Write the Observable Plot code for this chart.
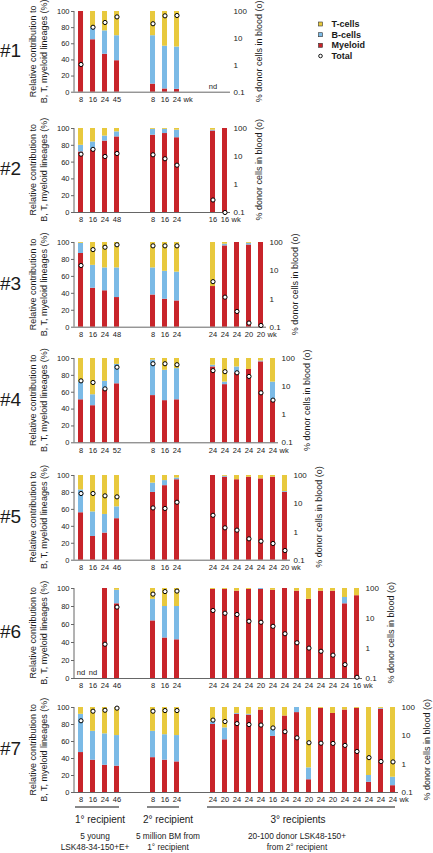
<!DOCTYPE html>
<html><head><meta charset="utf-8">
<script src="https://cdn.jsdelivr.net/npm/d3@7"></script>
<script src="https://cdn.jsdelivr.net/npm/@observablehq/plot@0.6"></script>
<style>
body{margin:0;background:#fff;}
#root{position:relative;width:433px;height:853px;overflow:hidden;font-family:"Liberation Sans",Arial,sans-serif;background:#fff;}
#root svg{position:absolute;left:0;}
</style></head><body><div id="root"></div>
<script>
// ---- data ----
const lineages = ["T-cells", "B-cells", "Myeloid"];
const lineageColors = ["#e8c93d", "#7bbae6", "#c8242a"];
const logTicks = [0.1, 1, 10, 100];
const pctTicks = [0, 20, 40, 60, 80, 100];
const recipientLabels = ["1° recipient", "2° recipient", "3° recipients"];
const recipientNotes = [["5 young", "LSK48-34-150+E+"], ["5 million BM from", "1° recipient"], ["20-100 donor LSK48-150+", "from 2° recipient"]];

const mouse = [
  1,1,1,1, 1,1,1, 1,
  2,2,2,2, 2,2,2, 2,2,
  3,3,3,3, 3,3,3, 3,3,3,3,3,
  4,4,4,4, 4,4,4, 4,4,4,4,4,4,
  5,5,5,5, 5,5,5, 5,5,5,5,5,5,5,
  6,6,6,6, 6,6,6, 6,6,6,6,6,6,6,6,6,6,6,6,6,
  7,7,7,7, 7,7,7, 7,7,7,7,7,7,7,7,7,7,7,7,7,7,7,7
];
const recipient = [
  1,1,1,1, 2,2,2, 3,
  1,1,1,1, 2,2,2, 3,3,
  1,1,1,1, 2,2,2, 3,3,3,3,3,
  1,1,1,1, 2,2,2, 3,3,3,3,3,3,
  1,1,1,1, 2,2,2, 3,3,3,3,3,3,3,
  1,1,1,1, 2,2,2, 3,3,3,3,3,3,3,3,3,3,3,3,3,
  1,1,1,1, 2,2,2, 3,3,3,3,3,3,3,3,3,3,3,3,3,3,3,3
];
const weeks = [
  8,16,24,45, 8,16,24, null,
  8,16,24,48, 8,16,24, 16,16,
  8,16,24,48, 8,16,24, 24,24,24,20,20,
  8,16,24,52, 8,16,24, 24,24,24,24,24,24,
  8,16,24,46, 8,16,24, 24,24,24,24,24,24,20,
  8,16,24,46, 8,16,24, 24,24,24,24,20,24,24,24,24,24,24,24,16,
  8,16,24,46, 8,16,24, 24,20,24,24,24,16,24,24,20,24,20,24,24,24,24,24
];
const myeloid = [
  100,65,47,39, 10,4,3.5, null,
  72,75,85,90, 92,94,89, 97,100,
  87,46,43,35, 38,33,31, 48,96,100,97,100,
  51,44,63,70, 56,50,51, 90,69,83,87,96,50,
  56,28,32,49, 80,88,95, 100,98,95,98,96,98,80,
  null,null,100,83, 64,45,43, 99,99,97,99,99,98,100,97,88,97,97,83,92,
  47,38,32,31, 41,38,36, 80,62,92,91,97,66,90,94,15,99,93,97,99,12,98,8
];
const bcells = [
  0,15,29,31, 60,53,52.5, null,
  8,9,6,6, 7,5,9, 1,0,
  12,27,27,35, 32,33,34, 0,2,0,2,0,
  21,13,10,23, 42,36,37, 2,3,7,0,1,22,
  27,29,22,14, 11,6,2, 0,1,0,0,0,0,1,
  null,null,0,15, 24,35,37, 0,0,0,0,1,0,0,0,0,0,0,7,0,
  45,34,37,36, 31,30,31, 3,14,1,1,0,8,0,6,14,0,0,0,0,8,1,10
];
const tcells = [
  0,20,24,30, 30,43,44, null,
  20,16,9,4, 1,1,2, 2,0,
  1,27,30,30, 30,34,35, 52,2,0,1,0,
  28,43,27,7, 2,14,12, 8,28,10,13,3,28,
  17,43,46,37, 9,6,3, 0,1,5,2,4,2,19,
  null,null,0,2, 12,20,20, 1,1,3,1,0,2,0,3,12,3,3,10,8,
  8,28,31,33, 28,32,33, 17,24,7,8,3,26,10,0,71,1,7,3,1,80,1,82
];
const total = [
  1.07,26,39,63, 35,69,71, null,
  12.1,18,10,12.8, 11.5,8.3,4.9, 0.28,0.1,
  15.3,56,68,83, 76,76,76, 4.1,1.16,0.36,0.14,0.115,
  16,14,8.3,49, 65,65,60, 37,34,31,23,6,3.3,
  23,23,19,17.5, 7.1,6.8,11.3, 3.9,1.4,1.16,0.57,0.47,0.39,0.22,
  null,null,1.39,24, 65,79,82, 18.5,15,13.6,8.1,7.5,5.5,3.1,1.55,1.03,0.81,0.6,0.29,0.11,
  34,74,80,95, 74,78,78, 36,32,27,25,24,19,14,8.5,5.7,5.5,5.4,4.6,2.8,1.7,1.24,1.2
];

// ---- layout ----
const W = 433, STEP = 12, MT = 8, MB = 16, ML = 74;
const panelTop = [11, 127.7, 242, 358, 474.7, 587.7, 707.3];
const panelH = [80.7, 84, 84.7, 84.3, 84.7, 90, 85];
const groupStart = {1: 0, 2: 6, 3: 11};
const FONT = "Liberation Sans, Arial, sans-serif";
const pct = v => (Math.log10(v) + 1) / 3 * 100;
const fromPct = p => +(Math.pow(10, p * 3 / 100 - 1)).toPrecision(1);

const root = document.getElementById("root");
const rows = mouse.map((m, i) => ({mouse: m, rec: recipient[i], week: weeks[i], m: myeloid[i], b: bcells[i], t: tcells[i], tot: total[i]}));

const leftLine = (index, scales, values, dims) => {
  const l = document.createElementNS("http://www.w3.org/2000/svg", "line");
  l.setAttribute("x1", dims.marginLeft); l.setAttribute("x2", dims.marginLeft);
  l.setAttribute("y1", dims.marginTop); l.setAttribute("y2", dims.height - dims.marginBottom);
  l.setAttribute("stroke", "#666"); l.setAttribute("stroke-width", 1);
  return l;
};

const axisEnds = [];
for (let p = 1; p <= 7; p++) {
  const items = rows.filter(r => r.mouse === p);
  const counter = {1: 0, 2: 0, 3: 0};
  items.forEach(r => { r.slot = groupStart[r.rec] + counter[r.rec]++; });
  const n = Math.max(13, d3.max(items, r => r.slot) + 1);
  const end = ML + STEP * n;
  axisEnds.push(end);
  const stack = items.filter(r => r.m != null).flatMap(r => [
    {slot: r.slot, lineage: "Myeloid", v: r.m},
    {slot: r.slot, lineage: "B-cells", v: r.b},
    {slot: r.slot, lineage: "T-cells", v: r.t}
  ]);
  const labeled = items.filter(r => r.week != null);
  const weekOf = new Map(labeled.map(r => [r.slot, String(r.week)]));
  const last = labeled[labeled.length - 1];
  const h = panelH[p - 1];
  const chart = Plot.plot({
    width: W, height: h + MT + MB,
    marginLeft: ML, marginRight: W - end, marginTop: MT, marginBottom: MB,
    style: {fontFamily: FONT, color: "#1a1a1a", background: "transparent", overflow: "visible"},
    x: {type: "band", domain: d3.range(n), paddingInner: 7 / 12, paddingOuter: 3.5 / 12, align: 0.5},
    y: {domain: [0, 100]},
    color: {domain: lineages, range: lineageColors},
    marks: [
      Plot.barY(stack, {x: "slot", y: "v", fill: "lineage", order: ["Myeloid", "B-cells", "T-cells"]}),
      Plot.ruleY([0], {stroke: "#666", strokeWidth: 1}),
      leftLine,
      Plot.axisY({ticks: pctTicks, tickSize: 3, tickPadding: 2, fontSize: 7.5, label: null, stroke: "#666"}),
      Plot.axisY({anchor: "right", ticks: logTicks.map(pct), tickFormat: d => String(fromPct(d)), tickSize: 0, tickPadding: 3, fontSize: 8, label: null}),
      Plot.axisX({ticks: labeled.map(r => r.slot), tickFormat: s => weekOf.get(s), tickSize: 0, tickPadding: 4.5, fontSize: 7.5, label: null}),
      Plot.text([last], {x: "slot", text: () => "wk", frameAnchor: "bottom", dx: 6.5, dy: 4.5, textAnchor: "start", lineAnchor: "top", fontSize: 7.5}),
      Plot.text(items.filter(r => r.m == null), {x: "slot", y: 0, text: () => "nd", dy: -6, fontSize: 7.5}),
      Plot.dot(items.filter(r => r.tot != null), {x: "slot", y: r => pct(r.tot), r: 2.1, fill: "white", stroke: "black", strokeWidth: 1})
    ]
  });
  chart.style.top = (panelTop[p - 1] - MT) + "px";
  root.appendChild(chart);
}

// ---- overlay text: panel labels, axis titles, legend, recipient annotations ----
const ov = d3.select(root).append("svg")
  .attr("width", W).attr("height", 853)
  .style("top", "0px").style("pointer-events", "none")
  .attr("font-family", FONT).attr("fill", "#1a1a1a");

for (let p = 0; p < 7; p++) {
  const cy = panelTop[p] + panelH[p] / 2;
  ov.append("text").attr("x", 0).attr("y", cy - 1).attr("dominant-baseline", "central")
    .attr("font-size", 19).text("#" + (p + 1));
  [["Relative contribution to", 32.5], ["B, T, myeloid lineages (%)", 43.8]].forEach(([t, x]) => {
    ov.append("text").attr("transform", `translate(${x},${cy}) rotate(-90)`)
      .attr("text-anchor", "middle").attr("dominant-baseline", "central")
      .attr("font-size", 9).text(t);
  });
  ov.append("text").attr("transform", `translate(${axisEnds[p] + 28.5},${cy}) rotate(-90)`)
    .attr("text-anchor", "middle").attr("dominant-baseline", "central")
    .attr("font-size", 9).text("% donor cells in blood (o)");
}

// legend
const legRows = [...lineages, "Total"];
const legY = [24, 34.7, 45.3, 56];
legRows.forEach((name, i) => {
  if (i < 3) {
    ov.append("rect").attr("x", 318.5).attr("y", legY[i] - 2).attr("width", 4).attr("height", 4)
      .attr("fill", lineageColors[i]).attr("stroke", "#333").attr("stroke-width", 0.6);
  } else {
    ov.append("circle").attr("cx", 320.5).attr("cy", legY[i]).attr("r", 1.8)
      .attr("fill", "white").attr("stroke", "black").attr("stroke-width", 0.9);
  }
  ov.append("text").attr("x", 331.5).attr("y", legY[i]).attr("dominant-baseline", "central")
    .attr("font-size", 9).attr("font-weight", "bold").text(name);
});

// recipient annotations under panel #7
const cx = s => ML + STEP * (s + 0.5);
const groupSpans = [[0, 3], [6, 8], [11, 26]];
const labelX = [100, 168, 298];
const noteX = [95, 168, 297];
groupSpans.forEach(([a, b], g) => {
  ov.append("line").attr("x1", cx(a) - 5).attr("x2", cx(b) + 3).attr("y1", 807).attr("y2", 807)
    .attr("stroke", "#111").attr("stroke-width", 1);
  ov.append("text").attr("x", labelX[g]).attr("y", 819).attr("text-anchor", "middle")
    .attr("dominant-baseline", "central").attr("font-size", 10).text(recipientLabels[g]);
  recipientNotes[g].forEach((t, k) => {
    ov.append("text").attr("x", noteX[g]).attr("y", 836.3 + k * 10.7).attr("text-anchor", "middle")
      .attr("dominant-baseline", "central").attr("font-size", 8.3).text(t);
  });
});
</script>
</body></html>
